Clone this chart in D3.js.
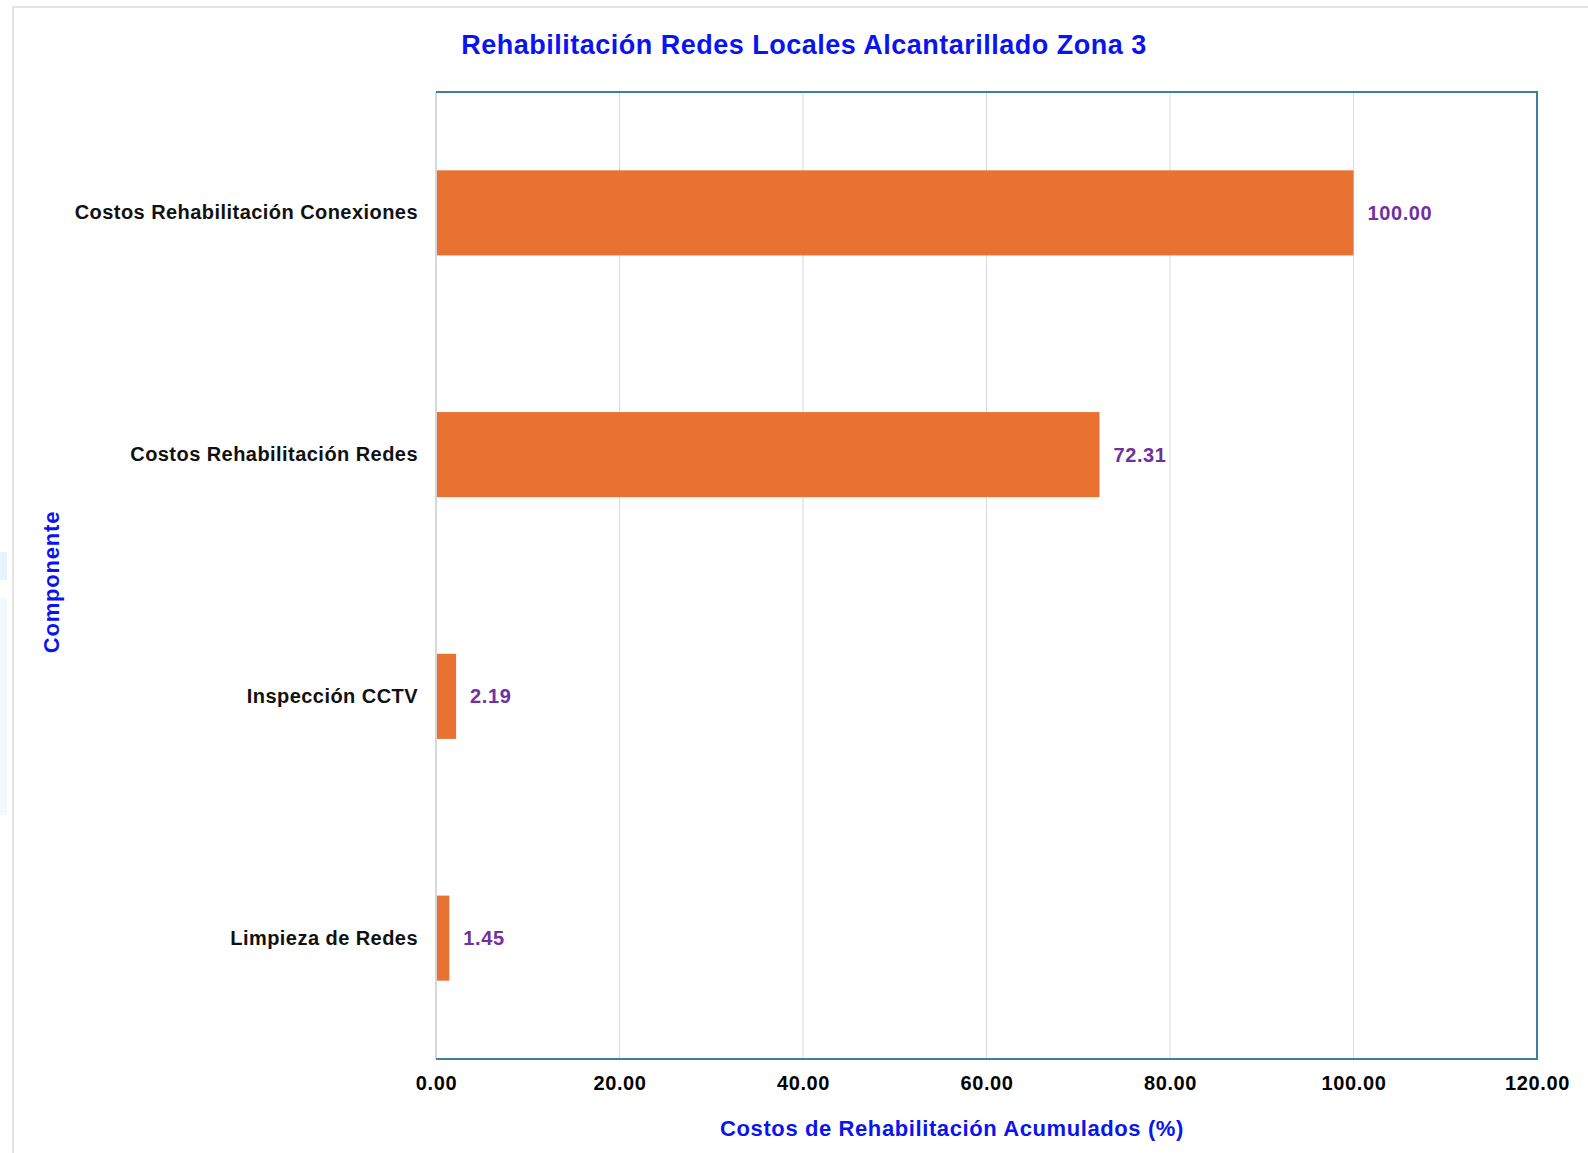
<!DOCTYPE html>
<html>
<head>
<meta charset="utf-8">
<script src="https://cdn.jsdelivr.net/npm/d3@7"></script>
<style>
  html, body { margin: 0; padding: 0; background: #ffffff; }
  svg { display: block; }
</style>
</head>
<body>
<svg id="chart" width="1588" height="1153"></svg>
<script>
// Component names, top to bottom
const categories = [
  "Costos Rehabilitación Conexiones",
  "Costos Rehabilitación Redes",
  "Inspección CCTV",
  "Limpieza de Redes"
];
// Accumulated rehabilitation cost (%) per component
const values = [100.00, 72.31, 2.19, 1.45];
// X axis tick values
const xTicks = [0, 20, 40, 60, 80, 100, 120];

const chartTitle = "Rehabilitación Redes Locales Alcantarillado Zona 3";
const xTitle = "Costos de Rehabilitación Acumulados (%)";
const yTitle = "Componente";

const svg = d3.select("#chart");
const font = "'Liberation Sans', Arial, sans-serif";

const plot = { left: 436, right: 1537, top: 92, bottom: 1059 };

// outer frame
svg.append("path")
  .attr("d", `M13,1153 V7 H1588`)
  .attr("fill", "none")
  .attr("stroke", "#e3e3e3")
  .attr("stroke-width", 2);

// faint side panels at the far left
svg.append("rect").attr("x", 0).attr("y", 552).attr("width", 7).attr("height", 28).attr("fill", "#e9f3fb");
svg.append("rect").attr("x", 0).attr("y", 598).attr("width", 7).attr("height", 217).attr("fill", "#f3f8fd");

const x = d3.scaleLinear().domain([0, 120]).range([plot.left, plot.right]);
const y = d3.scaleBand().domain(categories).range([plot.top, plot.bottom])
  .paddingInner(0.648).paddingOuter(0.324);

// vertical gridlines
svg.append("g")
  .selectAll("line")
  .data(xTicks.filter(t => t > 0 && t < 120))
  .join("line")
  .attr("x1", d => x(d)).attr("x2", d => x(d))
  .attr("y1", plot.top).attr("y2", plot.bottom)
  .attr("stroke", "#d9d9d9")
  .attr("stroke-width", 1);

// bars
svg.append("g")
  .selectAll("rect")
  .data(values)
  .join("rect")
  .attr("x", x(0))
  .attr("y", (d, i) => y(categories[i]))
  .attr("width", d => x(d) - x(0))
  .attr("height", y.bandwidth())
  .attr("fill", "#e97132");

// plot border: grey value axis on the left, blue frame elsewhere
svg.append("line")
  .attr("x1", plot.left).attr("x2", plot.left)
  .attr("y1", plot.top).attr("y2", plot.bottom)
  .attr("stroke", "#d4d8da").attr("stroke-width", 2);
svg.append("path")
  .attr("d", `M${plot.left},${plot.top} H${plot.right} V${plot.bottom} H${plot.left}`)
  .attr("fill", "none")
  .attr("stroke", "#3c7fa3")
  .attr("stroke-width", 2);

// value labels
svg.append("g")
  .selectAll("text")
  .data(values)
  .join("text")
  .attr("x", d => x(d) + 14)
  .attr("y", (d, i) => y(categories[i]) + y.bandwidth() / 2)
  .attr("dy", "0.35em")
  .attr("font-family", font)
  .attr("font-weight", "bold")
  .attr("font-size", 20)
  .attr("letter-spacing", 0.6)
  .attr("fill", "#7030a0")
  .text(d => d3.format(".2f")(d));

// x axis
const xAxis = svg.append("g")
  .attr("transform", `translate(0,${plot.bottom})`)
  .call(d3.axisBottom(x).tickValues(xTicks).tickFormat(d3.format(".2f")).tickSize(0).tickPadding(17));
xAxis.select(".domain").remove();
xAxis.selectAll("text")
  .attr("font-family", font)
  .attr("font-weight", "bold")
  .attr("font-size", 20)
  .attr("letter-spacing", 0.6)
  .attr("fill", "#000");

// y axis
const yAxis = svg.append("g")
  .attr("transform", `translate(${plot.left},0)`)
  .call(d3.axisLeft(y).tickSize(0).tickPadding(18));
yAxis.select(".domain").remove();
yAxis.selectAll("text")
  .attr("font-family", font)
  .attr("font-weight", "bold")
  .attr("font-size", 20)
  .attr("letter-spacing", 0.45)
  .attr("fill", "#111");

// titles
svg.append("text")
  .attr("x", 804).attr("y", 54)
  .attr("text-anchor", "middle")
  .attr("font-family", font)
  .attr("font-weight", "bold")
  .attr("font-size", 27)
  .attr("letter-spacing", 0.5)
  .attr("fill", "#0a14f0")
  .text(chartTitle);

svg.append("text")
  .attr("x", 952).attr("y", 1136)
  .attr("text-anchor", "middle")
  .attr("font-family", font)
  .attr("font-weight", "bold")
  .attr("font-size", 22)
  .attr("letter-spacing", 0.6)
  .attr("fill", "#0a14f0")
  .text(xTitle);

svg.append("text")
  .attr("transform", `translate(59,582) rotate(-90)`)
  .attr("text-anchor", "middle")
  .attr("font-family", font)
  .attr("font-weight", "bold")
  .attr("font-size", 22)
  .attr("letter-spacing", 0.8)
  .attr("fill", "#0a14f0")
  .text(yTitle);
</script>
</body>
</html>
